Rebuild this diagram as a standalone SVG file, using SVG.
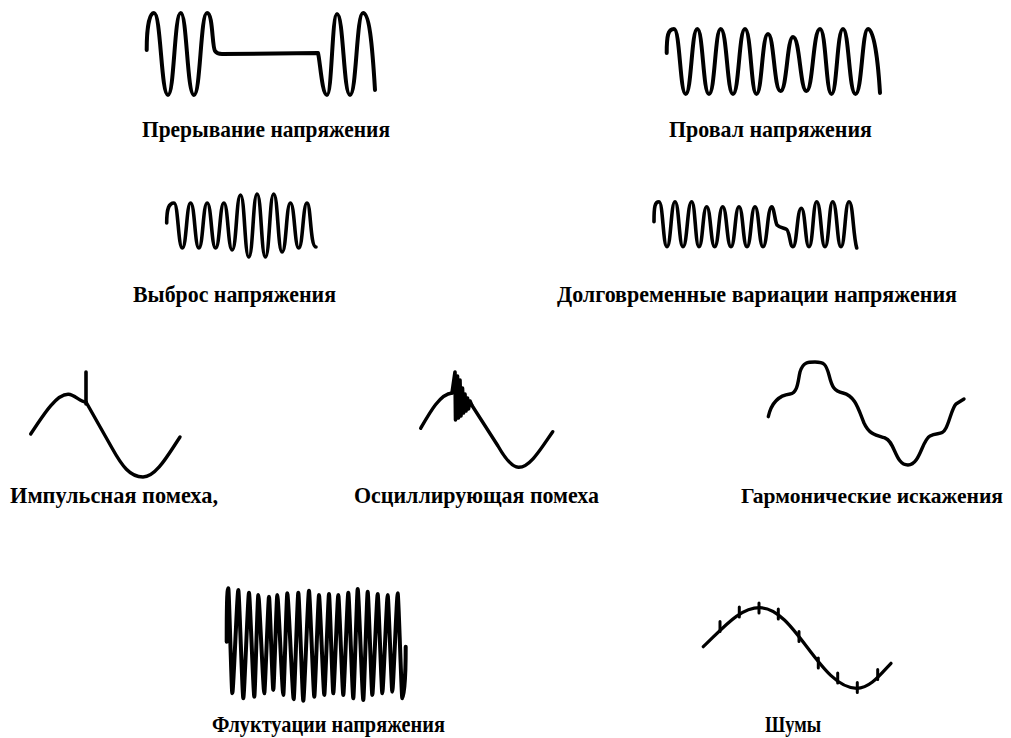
<svg xmlns="http://www.w3.org/2000/svg" width="1011" height="738" viewBox="0 0 1011 738">
<style>
.w{fill:none;stroke:#000;stroke-width:4;stroke-linecap:round;stroke-linejoin:round}
.t{font-family:"Liberation Serif","Times New Roman",serif;font-weight:bold;font-size:22.5px;fill:#000}
</style>
<rect width="1011" height="738" fill="#fff"/>
<g id="interruption">
<path class="w" d="M146.7,50 C146.7,30 149,13 154,13 C161,13 161,95 168,95 C174.3,95 174.3,13 180.7,13 C187,13 187,95 194,95 C200.5,95 200.5,13 207,13 C213,13 212,47 215,51 Q217,54 222,54 L318,53 C320,60 322,95 327,95 C332,95 332,14 337,14 C343.5,14 343.5,95 350,95 C356.5,95 356.5,13 363,13 C369,13 372,40 375,90"/>
<text class="t" x="142" y="137" textLength="248" lengthAdjust="spacingAndGlyphs">Прерывание напряжения</text>
</g>
<g id="sag">
<path class="w" d="M666.7,53 C666.7,36 668,29 674,29 C680,29 680,94 685.7,94 C691.5,94 691.5,29 697.3,29 C703,29 703,94 709,94 C715,94 715,29 720.7,29 C727,29 727,94 733,94 C739,94 739,29 745,29 C751,29 751,94 756.5,94 C762,94 762,34 768,34 C774,34 774,91 780.5,91 C787,91 787,37 793,37 C800,37 800,91 806.5,91 C813,91 813,29 820,29 C826,29 826,94 831.5,94 C837,94 837,29 843,29 C849,29 849,94 855.5,94 C862,94 862,29 868,29 C874,29 878,60 880,93"/>
<text class="t" x="669" y="137" textLength="203" lengthAdjust="spacingAndGlyphs">Провал напряжения</text>
</g>
<g id="swell">
<path class="w" style="stroke-width:3.6" d="M166.7,223 C166.7,208 169,203 174,203 C178.2,203 178.2,248 182.3,248 C186.5,248 186.5,203 190.6,203 C194.8,203 194.8,248 198.9,248 C203,248 203,203 207.2,203 C211.4,203 211.4,248 215.6,248 C219.8,248 219.8,203 223.9,203 C228,203 228,250 232.2,250 C236.4,250 236.4,195 240.5,195 C244.7,195 244.7,257 248.8,257 C253,257 253,194 257.1,194 C261.3,194 261.3,257 265.4,257 C269.6,257 269.6,194 273.7,194 C277.9,194 277.9,252 282.1,252 C286.3,252 286.3,203 290.4,203 C294.6,203 294.6,248 298.7,248 C302.9,248 302.9,203 307,203 C311,203 310,247 316,247"/>
<text class="t" x="133" y="302" textLength="203" lengthAdjust="spacingAndGlyphs">Выброс напряжения</text>
</g>
<g id="long-variation">
<path class="w" style="stroke-width:3.6" d="M654,221.7 C654,206 655,201.7 659,201.7 C663,201.7 663,246.7 667,246.7 C671,246.7 671,201.7 675,201.7 C679,201.7 679,246.7 683,246.7 C687.3,246.7 687.3,201.7 691.7,201.7 C695.3,201.7 695.3,246.7 699,246.7 C702.8,246.7 702.8,206.7 706.7,206.7 C710.7,206.7 710.7,246.7 714.7,246.7 C718.7,246.7 718.7,206.7 722.7,206.7 C726.8,206.7 726.8,246.7 731,246.7 C735,246.7 735,206.7 739,206.7 C743,206.7 743,246.7 747,246.7 C751,246.7 751,206.7 755,206.7 C759,206.7 759,246.7 763,246.7 C767.3,246.7 767.3,206.7 771.7,206.7 C774,206.7 775,222 777,225 Q779,227 783,228 L786,229 C790,230 789.5,246.7 793,246.7 C797,246.7 797,208.3 801.3,208.3 C805.3,208.3 805.3,246.7 809,246.7 C813,246.7 813,201.7 816.7,201.7 C821,201.7 821,246.7 825,246.7 C829,246.7 829,201.7 832.7,201.7 C837,201.7 837,246.7 841,246.7 C845,246.7 845,201.7 849,201.7 C853,201.7 853,235 856.7,248"/>
<text class="t" x="557" y="302" textLength="400" lengthAdjust="spacingAndGlyphs">Долговременные вариации напряжения</text>
</g>
<g id="impulse">
<path class="w" style="stroke-width:3.4" d="M30.7,434 C45,412 57,394 68.3,394.3 C75,394.5 80,402 86,402"/>
<path class="w" style="stroke-width:3.6" d="M86,372 L86,404"/>
<path class="w" style="stroke-width:3.4" d="M86,402 L112,448 C122,466 130,477 143,477 C156,477 168,455 180,437"/>
<text class="t" x="10" y="503" textLength="208" lengthAdjust="spacingAndGlyphs">Импульсная помеха,</text>
</g>
<g id="oscillatory">
<path class="w" style="stroke-width:3.4" d="M420.7,428.3 C430,412 440,394 452,393"/>
<path class="w" style="stroke-width:3.6" d="M452,393 L455,372 L455.5,420 L457.5,376 L458.5,418 L460,380 L461,416 L462.5,388 L463.5,413 L465,394 L466,411 L467.5,398 L468.5,409 L470,401 L471.7,405"/>
<path class="w" style="stroke-width:3.4" d="M471.7,405 L498,446 C506,460 512,467 518.3,467.3 C530,468 542,447 552.7,431.7"/>
<text class="t" x="354" y="503" textLength="245" lengthAdjust="spacingAndGlyphs">Осциллирующая помеха</text>
</g>
<g id="harmonics">
<path class="w" style="stroke-width:3.4" d="M768.3,416.7 C772,400 782,395 790,394 C798,393 798,380 800,372 C803,362 808,362 815,362 C824,362 826,364 829,375 C832,387 834,391 843,393 C855,396 858,408 864,423 C869,434 875,435 885,438 C895,441 895,465 908,465 C920,465 922,440 930,436 C938,432 942,436 946,428 C950,420 952,408 956,404 L964,399"/>
<text class="t" x="741" y="503" style="font-size:21px" textLength="262" lengthAdjust="spacingAndGlyphs">Гармонические искажения</text>
</g>
<g id="fluctuations">
<path class="w" style="stroke-width:4" d="M226.7,641.7 C226.7,610 227,588.3 228.3,588.3 C229,588.3 231.6,693.3 232.3,693.3 C233.3,693.3 237.3,590 238.3,590 C239.1,590 242.5,698.3 243.3,698.3 C244.2,698.3 248.1,592.7 249,592.7 C249.8,592.7 253.5,696.7 254.3,696.7 C255,696.7 257.6,595 258.3,595 C259.3,595 263.3,693.3 264.3,693.3 C265,693.3 268.3,596.7 269,596.7 C269.7,596.7 272.6,690 273.3,690 C274,690 276.6,595 277.3,595 C278.3,595 282.3,695 283.3,695 C284,695 286.6,593.3 287.3,593.3 C288.3,593.3 292.7,699.3 293.7,699.3 C294.4,699.3 297.6,592.7 298.3,592.7 C299.1,592.7 302.5,700.7 303.3,700.7 C304.2,700.7 308.1,590.7 309,590.7 C309.8,590.7 313.5,696.7 314.3,696.7 C315,696.7 318.3,595 319,595 C319.8,595 323.5,695 324.3,695 C325,695 328.3,594 329,594 C329.7,594 332.6,693.3 333.3,693.3 C334.1,693.3 337.5,595 338.3,595 C339.1,595 342.5,695 343.3,695 C344.1,695 347.5,592.7 348.3,592.7 C349.1,592.7 352.5,698.3 353.3,698.3 C354,698.3 357,589 357.7,589 C358.6,589 362.4,700 363.3,700 C364,700 367,591.7 367.7,591.7 C368.4,591.7 371.6,695 372.3,695 C373.2,695 376.8,594 377.7,594 C378.4,594 381.6,693.3 382.3,693.3 C383.2,693.3 386.8,595 387.7,595 C388.4,595 391.6,691.7 392.3,691.7 C393.2,691.7 396.8,593.3 397.7,593.3 C398.4,593.3 401.6,698.3 402.3,698.3 C403.5,698.3 405.7,680 405.7,646.7"/>
<text class="t" x="212" y="732" textLength="233" lengthAdjust="spacingAndGlyphs">Флуктуации напряжения</text>
</g>
<g id="noise">
<path class="w" style="stroke-width:3.2" d="M703.3,646.7 C725,626 740,607.7 760,607.7 C795,607.7 820,688.3 856.7,688.3 C870,688.3 880,675 891,663.3"/>
<path class="w" style="stroke-width:3" d="M720,621.5 v10 M739.3,607 v10 M759,603 v10 M778.3,609 v10 M799,631.5 v10 M818.3,658 v10 M837.7,673 v10 M857.3,682.5 v10 M877.7,669.5 v10"/>
<text class="t" x="765" y="732" textLength="56" lengthAdjust="spacingAndGlyphs">Шумы</text>
</g>
</svg>
